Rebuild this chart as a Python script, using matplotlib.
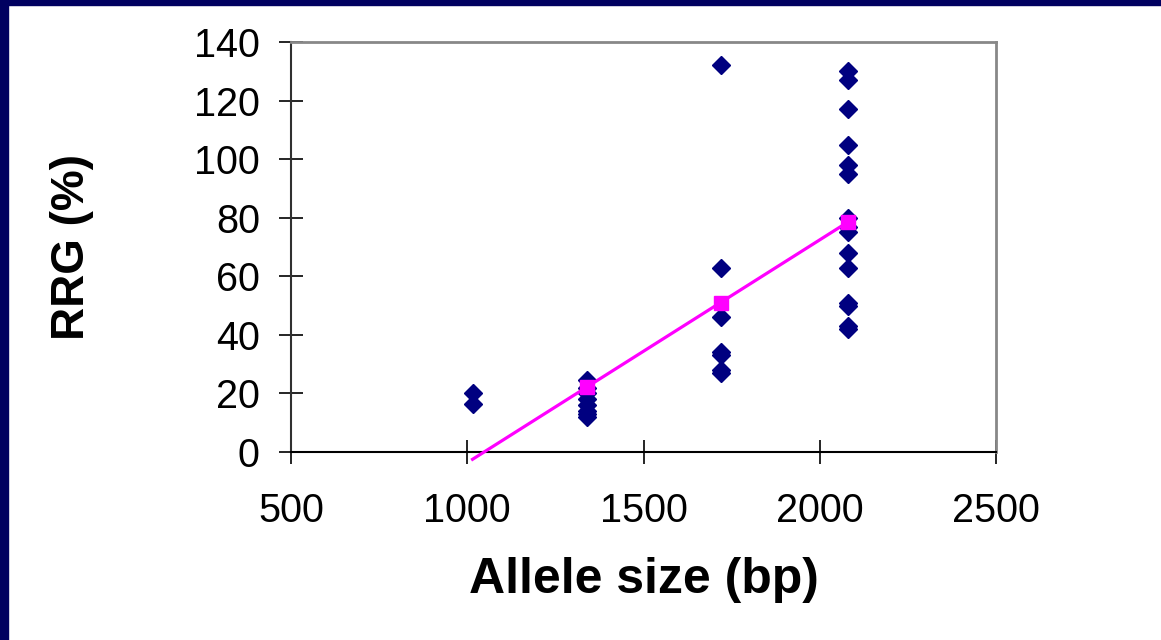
import matplotlib
matplotlib.use("Agg")
import matplotlib.pyplot as plt
from matplotlib.patches import Rectangle
import numpy as np

plt.rcParams['font.family'] = ['Liberation Sans', 'DejaVu Sans']

## individual measurements, one list per allele size
allele_sizes = [1015, 1340, 1720, 2080]
rrg_values = [
    [20, 16.5],
    [24.5, 22, 20, 18, 16, 14, 13, 12],
    [132, 63, 46, 34, 33, 28, 27],
    [130, 127, 117, 105, 98, 95, 80, 77, 75, 68, 63, 51, 50, 43, 42],
]

## mean values (magenta squares)
mean_sizes = [1340, 1720, 2080]
mean_rrg = [22.3, 51.0, 78.6]

x_ticks = [500, 1000, 1500, 2000, 2500]
y_ticks = [0, 20, 40, 60, 80, 100, 120, 140]

fig = plt.figure(figsize=(11.61, 6.4), dpi=100)
ax = fig.add_axes([291/1161, 1-452/640, 705/1161, 410/640])

# scatter of the single points
for size, vals in zip(allele_sizes, rrg_values):
    ax.plot([size]*len(vals), vals, linestyle='none', marker='D',
            markersize=9, color='#000080', clip_on=False, zorder=3)

# linear trend of the means, drawn over the whole allele range
coef = np.polyfit(mean_sizes, mean_rrg, 1)
xs = np.array([allele_sizes[0], allele_sizes[-1]])
ax.plot(xs, np.polyval(coef, xs), color='#FF00FF', linewidth=2.3,
        clip_on=False, zorder=4)
ax.plot(mean_sizes, mean_rrg, linestyle='none', marker='s', markersize=9.5,
        color='#FF00FF', clip_on=False, zorder=5)

ax.set_xlim(500, 2500)
ax.set_ylim(0, 140)
ax.set_xticks(x_ticks)
ax.set_yticks(y_ticks)
ax.tick_params(direction='inout', length=17, width=1.2, labelsize=28.5,
               color='black')
ax.tick_params(axis='y', pad=14)
ax.tick_params(axis='x', pad=20)

ax.spines['left'].set_color('#303030')
ax.spines['bottom'].set_color('black')
ax.spines['left'].set_linewidth(1.5)
ax.spines['bottom'].set_linewidth(1.5)
ax.spines['top'].set_color('#888888')
ax.spines['right'].set_color('#888888')
ax.spines['top'].set_linewidth(2)
ax.spines['right'].set_linewidth(2)

ax.set_xlabel('Allele size (bp)', fontsize=36, fontweight='bold', labelpad=20)
ax.set_ylabel('RRG (%)', fontsize=33, fontweight='bold', labelpad=72)

# navy slide border (left and top)
fig.patches.append(Rectangle((0, 0), 8/1161, 1, transform=fig.transFigure,
                             color='#000060', zorder=10))
fig.patches.append(Rectangle((0, 1-5/640), 1, 5/640, transform=fig.transFigure,
                             color='#000060', zorder=10))

fig.savefig('out.png', dpi=100)
